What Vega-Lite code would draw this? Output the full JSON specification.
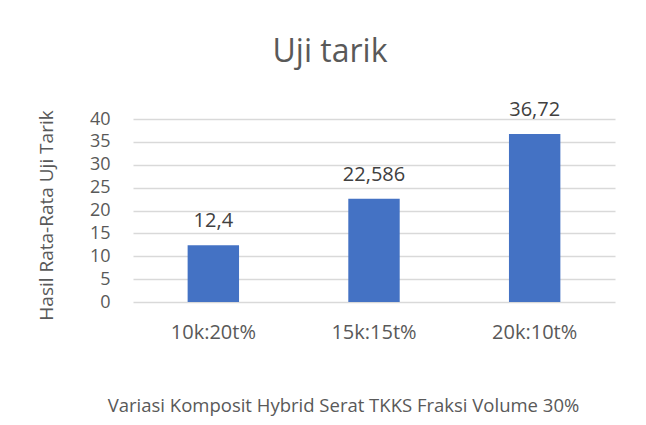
{
  "$schema": "https://vega.github.io/schema/vega-lite/v6.json",
  "width": 482,
  "height": 183,
  "autosize": {"type": "none"},
  "padding": {"left": 133, "top": 119, "right": 31, "bottom": 123},
  "background": "white",
  "config": {
    "font": "Open Sans",
    "view": {"stroke": null},
    "locale": {"number": {"decimal": ",", "thousands": ".", "grouping": [3], "currency": ["", ""]}}
  },
  "title": {
    "text": "Uji tarik",
    "fontSize": 32,
    "fontWeight": "normal",
    "color": "#595959",
    "anchor": "middle",
    "dx": -44,
    "offset": 31
  },
  "data": {
    "values": [
      {"variasi": "10k:20t%", "nilai": 12.4},
      {"variasi": "15k:15t%", "nilai": 22.586},
      {"variasi": "20k:10t%", "nilai": 36.72}
    ]
  },
  "encoding": {
    "x": {
      "field": "variasi",
      "type": "nominal",
      "sort": null,
      "scale": {"paddingInner": 0.68, "paddingOuter": 0.34},
      "axis": {
        "title": "Variasi Komposit Hybrid Serat TKKS Fraksi Volume 30%",
        "titleFontSize": 18.5,
        "titleFontWeight": "normal",
        "titleColor": "#595959",
        "titlePadding": 54,
        "titleX": 210,
        "labelAngle": 0,
        "labelFontSize": 20,
        "labelColor": "#595959",
        "labelPadding": 20,
        "domain": false,
        "ticks": false
      }
    },
    "y": {
      "field": "nilai",
      "type": "quantitative",
      "scale": {"domain": [0, 40]},
      "axis": {
        "title": "Hasil Rata-Rata Uji Tarik",
        "titleFontSize": 19,
        "titleFontWeight": "normal",
        "titleColor": "#595959",
        "titlePadding": 33,
        "titleY": 96,
        "values": [0, 5, 10, 15, 20, 25, 30, 35, 40],
        "labelFontSize": 18,
        "labelColor": "#595959",
        "labelPadding": 23,
        "domain": false,
        "ticks": false,
        "gridColor": "#D9D9D9",
        "gridWidth": 1.3
      }
    }
  },
  "layer": [
    {"mark": {"type": "bar", "color": "#4472C4"}},
    {
      "mark": {"type": "text", "dy": -24, "fontSize": 20, "color": "#404040"},
      "encoding": {"text": {"field": "nilai", "type": "quantitative", "format": ".5~g"}}
    }
  ]
}
